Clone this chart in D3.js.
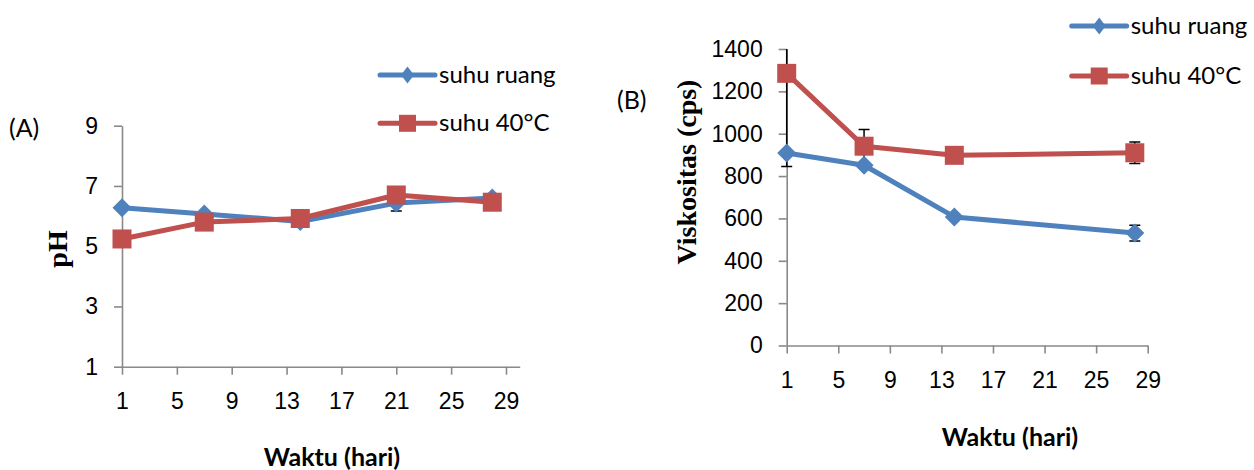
<!DOCTYPE html>
<html>
<head>
<meta charset="utf-8">
<script src="https://cdn.jsdelivr.net/npm/d3@7"></script>
<style>
  body { margin: 0; background: #fff; }
  svg { display: block; font-family: Lato, "Open Sans", sans-serif; }
</style>
</head>
<body>
<div id="chart"></div>
<script>
// values
const seriesNames = ["suhu ruang", "suhu 40°C"];
const xTicks = [1, 5, 9, 13, 17, 21, 25, 29];

// (A) pH
const phDays = [1, 7, 14, 21, 28];
const phRuang = [6.28, 6.07, 5.82, 6.43, 6.6];
const ph40 = [5.24, 5.80, 5.92, 6.70, 6.46];
const phErrRuang = [0, 0, 0, 0.26, 0];
const phErr40 = [0, 0, 0, 0, 0];
const phTicks = [1, 3, 5, 7, 9];

// (B) viskositas
const viskDays = [1, 7, 14, 28];
const viskRuang = [909, 851, 607, 531];
const visk40 = [1285, 941, 898, 910];
const viskErrRuang = [0, 0, 0, 37];
const viskErr40 = [440, 79, 0, 51];
const viskTicks = [0, 200, 400, 600, 800, 1000, 1200, 1400];

const blue = "#4f81bd", red = "#c0504d", axisCol = "#898989";

const svg = d3.select("#chart").append("svg")
  .attr("width", 1254).attr("height", 470);

function diamond(cx, cy, hw, hh) {
  return `M${cx},${cy - hh}L${cx + hw},${cy}L${cx},${cy + hh}L${cx - hw},${cy}Z`;
}

function marker(g, kind, color, cx, cy, s) {
  if (kind === "diamond") {
    g.append("path").attr("d", diamond(cx, cy, s.hw, s.hh)).attr("fill", color);
  } else {
    g.append("rect").attr("x", cx - s.sq / 2).attr("y", cy - s.sq / 2)
      .attr("width", s.sq).attr("height", s.sq).attr("fill", color);
  }
}

function panel(o) {
  const g = svg.append("g");
  const x = d3.scaleLinear().domain(o.xDomain).range(o.xRange);
  const y = d3.scaleLinear().domain(o.yDomain).range(o.yRange);

  const yAx = g.append("g").attr("transform", `translate(${o.xRange[0]},0)`)
    .call(d3.axisLeft(y).tickValues(o.yTicks).tickFormat(d3.format("d"))
      .tickSize(8).tickSizeOuter(0).tickPadding(16));
  const xAx = g.append("g").attr("transform", `translate(0,${o.yRange[0]})`)
    .call(d3.axisBottom(x).tickValues(xTicks).tickFormat(d3.format("d"))
      .tickSize(8).tickSizeOuter(0).tickPadding(18));
  [yAx, xAx].forEach(a => {
    a.selectAll("path, line").attr("stroke", axisCol).attr("stroke-width", 1.6);
    a.selectAll("text").attr("fill", "#000").style("font-size", "23px");
  });

  const clipId = "clip" + o.id;
  svg.append("clipPath").attr("id", clipId).append("rect")
    .attr("x", 0).attr("y", o.yRange[1]).attr("width", 1254)
    .attr("height", o.yRange[0] - o.yRange[1]);

  const series = [
    {vals: o.a, err: o.aErr, color: blue, kind: "diamond"},
    {vals: o.b, err: o.bErr, color: red, kind: "square"}
  ];

  // error bars under the lines
  const eb = g.append("g").attr("clip-path", `url(#${clipId})`)
    .attr("stroke", "#000").attr("stroke-width", 1.5);
  series.forEach(s => {
    o.days.forEach((d, i) => {
      const e = s.err[i];
      if (!e) return;
      const cx = x(d), y0 = y(s.vals[i] - e), y1 = y(s.vals[i] + e);
      eb.append("line").attr("x1", cx).attr("x2", cx).attr("y1", y0).attr("y2", y1);
      [y0, y1].forEach(yy => eb.append("line")
        .attr("x1", cx - 5.5).attr("x2", cx + 5.5).attr("y1", yy).attr("y2", yy));
    });
  });

  const line = d3.line().x(d => x(d[0])).y(d => y(d[1]));
  series.forEach(s => {
    g.append("path").datum(o.days.map((d, i) => [d, s.vals[i]]))
      .attr("d", line).attr("fill", "none").attr("stroke", s.color)
      .attr("stroke-width", 5).attr("stroke-linejoin", "round");
    o.days.forEach((d, i) => marker(g, s.kind, s.color, x(d), y(s.vals[i]),
      {hw: 9.5, hh: 9.5, sq: 19}));
  });

  // legend
  series.forEach((s, i) => {
    const ly = o.legendY[i];
    g.append("line").attr("x1", o.legendX).attr("x2", o.legendX + 55)
      .attr("y1", ly).attr("y2", ly).attr("stroke", s.color)
      .attr("stroke-width", 5).attr("stroke-linecap", "round");
    marker(g, s.kind, s.color, o.legendX + 27.5, ly, {hw: 6.5, hh: 8.5, sq: 17});
    g.append("text").attr("x", o.legendX + 59).attr("y", ly + 8)
      .style("font-size", "24px").text(seriesNames[i]);
  });

  g.append("text").attr("x", o.tag[0]).attr("y", o.tag[1])
    .style("font-size", "25px").text(o.tagText);

  g.append("text").attr("transform", `translate(${o.yTitle[0]},${o.yTitle[1]}) rotate(-90)`)
    .attr("text-anchor", "middle")
    .style("font-family", "'Liberation Serif', 'Times New Roman', serif")
    .style("font-weight", "bold").style("font-size", "28px").text(o.yTitleText);

  g.append("text").attr("x", o.xTitle[0]).attr("y", o.xTitle[1])
    .attr("text-anchor", "middle").style("font-weight", "bold")
    .style("font-size", "25px").text("Waktu (hari)");
}

panel({
  id: "A", days: phDays, a: phRuang, b: ph40, aErr: phErrRuang, bErr: phErr40,
  xDomain: [1, 30], xRange: [122, 519.7],
  yDomain: [1, 9], yRange: [366.7, 125.7], yTicks: phTicks,
  legendX: 380, legendY: [75, 123.3],
  tag: [9, 137], tagText: "(A)",
  yTitle: [67, 249], yTitleText: "pH",
  xTitle: [332, 466]
});

panel({
  id: "B", days: viskDays, a: viskRuang, b: visk40, aErr: viskErrRuang, bErr: viskErr40,
  xDomain: [1, 29], xRange: [786.7, 1147.7],
  yDomain: [0, 1400], yRange: [345.5, 49], yTicks: viskTicks,
  legendX: 1071.7, legendY: [26, 76],
  tag: [617, 109], tagText: "(B)",
  yTitle: [696, 172], yTitleText: "Viskositas (cps)",
  xTitle: [1010, 446]
});
</script>
</body>
</html>
